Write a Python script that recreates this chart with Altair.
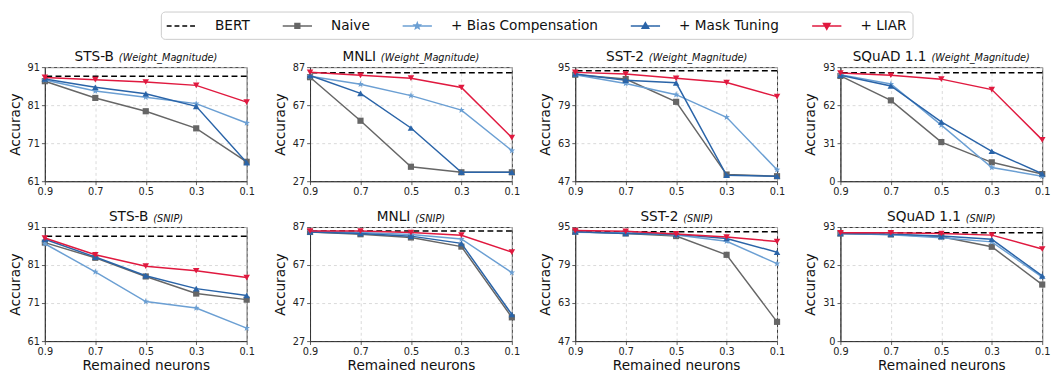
import math
import altair as alt
import pandas as pd

# ---------------- data ----------------
X = [0.9, 0.7, 0.5, 0.3, 0.1]
SERIES = ["Naive", "+ Bias Compensation", "+ Mask Tuning", "+ LIAR"]
LEGEND_ITEMS = ["BERT"] + SERIES

STSB_TICKS = [61, 71, 81, 91]
MNLI_TICKS = [27, 47, 67, 87]
SST2_TICKS = [47, 63, 79, 95]
SQUAD_TICKS = [0, 31, 62, 93]

# Weight_Magnitude pruning
STSB_WM_BERT = 88.6
STSB_WM = {
    "Naive": [87.3, 82.9, 79.4, 74.9, 66.1],
    "+ Bias Compensation": [87.6, 84.7, 83.1, 81.4, 76.3],
    "+ Mask Tuning": [87.9, 85.7, 84.0, 80.7, 65.9],
    "+ LIAR": [88.3, 87.7, 87.1, 86.2, 81.8],
}
MNLI_WM_BERT = 84.1
MNLI_WM = {
    "Naive": [81.7, 58.8, 34.6, 31.7, 31.7],
    "+ Bias Compensation": [82.2, 78.0, 72.0, 64.4, 43.1],
    "+ Mask Tuning": [82.6, 73.2, 55.0, 31.7, 31.7],
    "+ LIAR": [84.3, 82.7, 81.2, 76.3, 49.9],
}
SST2_WM_BERT = 93.5
SST2_WM = {
    "Naive": [91.8, 90.0, 80.4, 49.8, 49.1],
    "+ Bias Compensation": [91.8, 88.1, 83.4, 73.9, 51.8],
    "+ Mask Tuning": [92.1, 89.5, 88.4, 49.5, 49.1],
    "+ LIAR": [92.8, 92.1, 90.3, 88.5, 82.6],
}
SQUAD_WM_BERT = 88.5
SQUAD_WM = {
    "Naive": [85.8, 65.9, 31.9, 15.4, 5.8],
    "+ Bias Compensation": [86.9, 79.2, 45.7, 11.2, 4.0],
    "+ Mask Tuning": [86.4, 77.6, 48.4, 24.4, 6.1],
    "+ LIAR": [88.2, 86.4, 83.2, 74.7, 33.7],
}

# SNIP pruning
STSB_SNIP_BERT = 88.6
STSB_SNIP = {
    "Naive": [86.9, 82.9, 78.0, 73.5, 71.9],
    "+ Bias Compensation": [86.6, 79.2, 71.4, 69.7, 64.4],
    "+ Mask Tuning": [87.8, 83.1, 78.2, 74.8, 73.0],
    "+ LIAR": [88.1, 83.7, 80.7, 79.5, 77.7],
}
MNLI_SNIP_BERT = 84.9
MNLI_SNIP = {
    "Naive": [84.4, 83.2, 81.5, 76.7, 39.5],
    "+ Bias Compensation": [84.8, 84.1, 83.1, 80.7, 63.0],
    "+ Mask Tuning": [84.4, 83.6, 82.2, 78.4, 41.0],
    "+ LIAR": [84.9, 84.9, 84.1, 82.7, 73.8],
}
SST2_SNIP_BERT = 93.0
SST2_SNIP = {
    "Naive": [93.0, 92.3, 91.2, 83.3, 55.1],
    "+ Bias Compensation": [92.8, 92.6, 91.6, 89.0, 79.6],
    "+ Mask Tuning": [93.0, 92.3, 91.9, 90.2, 84.4],
    "+ LIAR": [93.5, 93.2, 92.1, 90.8, 88.9],
}
SQUAD_SNIP_BERT = 88.3
SQUAD_SNIP = {
    "Naive": [87.7, 86.9, 85.1, 76.9, 46.1],
    "+ Bias Compensation": [87.7, 86.7, 84.3, 80.9, 52.2],
    "+ Mask Tuning": [87.7, 87.2, 85.6, 83.0, 53.2],
    "+ LIAR": [88.3, 88.3, 87.7, 86.4, 75.1],
}

# ---------------- style ----------------
FONT = "DejaVu Sans"
PW, PH = 207, 117
COLORS = {
    "BERT": "#000000",
    "Naive": "#666666",
    "+ Bias Compensation": "#6b9fd3",
    "+ Mask Tuning": "#2a64a8",
    "+ LIAR": "#e0193f",
}


def star_path(R, r):
    pts = []
    for k in range(10):
        ang = math.radians(-90 + 36 * k)
        rad = R if k % 2 == 0 else r
        pts.append(f"{rad * math.cos(ang):.3f},{rad * math.sin(ang):.3f}")
    return "M" + "L".join(pts) + "Z"


STAR = star_path(1.0, 0.42)
SHAPES = {
    "Naive": "square",
    "+ Bias Compensation": STAR,
    "+ Mask Tuning": "triangle-up",
    "+ LIAR": "triangle-down",
}
SIZES = {"Naive": 40, "+ Bias Compensation": 50, "+ Mask Tuning": 45, "+ LIAR": 45}

# legend symbols: a 30px line (path spans -2..2 at size 225) with a small marker
LINE = "M-2,0H2"
LEGEND_PATHS = [
    LINE,
    LINE + "M-0.33,-0.33H0.33V0.33H-0.33Z",
    LINE + star_path(0.42, 0.18),
    LINE + "M0,-0.45L0.45,0.33L-0.45,0.33Z",
    LINE + "M-0.45,-0.33L0.45,-0.33L0,0.45Z",
]

CW = {"S": .635, "T": .611, "-": .361, "B": .686, "M": .863, "N": .748, "L": .557,
      "I": .295, "2": .636, "Q": .787, "u": .634, "A": .684, "D": .770, " ": .318,
      "1": .636, ".": .318, "(": .390, ")": .390, "W": .989, "e": .615, "i": .278,
      "g": .635, "h": .634, "t": .392, "_": .500, "a": .613, "n": .634, "d": .635,
      "P": .603}


def tw(s, size):
    return sum(CW.get(c, 0.6) for c in s) * size


legend_cfg = alt.Legend(
    title=None, orient="none", legendX=119, legendY=-57, direction="horizontal",
    columns=5, symbolSize=225, symbolStrokeWidth=1.5, symbolOffset=6.5,
    labelFontSize=14, labelFont=FONT, labelColor="#111111", labelOffset=26,
    labelLimit=400, columnPadding=30, padding=6, strokeColor="#cccccc",
    cornerRadius=4, fillColor="#ffffff",
)


def panel(task, pruner, ticks, bert, vals, bottom, with_legend):
    rows = []
    for m in SERIES:
        for x, v in zip(X, vals[m]):
            rows.append({"x": x, "acc": v, "method": m})
    df = pd.DataFrame(rows)

    xenc = alt.X(
        "x:Q",
        scale=alt.Scale(domain=[0.1, 0.9], reverse=True, nice=False, zero=False),
        axis=alt.Axis(values=X, format=".1f",
                      title="Remained neurons" if bottom else None),
    )
    yenc = alt.Y(
        "acc:Q",
        scale=alt.Scale(domain=[ticks[0], ticks[-1]], nice=False, zero=False),
        axis=alt.Axis(values=ticks, title="Accuracy"),
    )

    layers = []
    layers.append(
        alt.Chart(pd.DataFrame({"acc": [bert]}))
        .mark_rule(color="black", strokeDash=[6, 3.5], strokeWidth=1.5)
        .encode(y=yenc)
    )
    for m in SERIES:
        sub = df[df["method"] == m]
        layers.append(
            alt.Chart(sub).mark_line(color=COLORS[m], strokeWidth=1.5)
            .encode(x=xenc, y=yenc)
        )
        layers.append(
            alt.Chart(sub).mark_point(filled=True, shape=SHAPES[m], size=SIZES[m],
                                      color=COLORS[m], opacity=1)
            .encode(x=xenc, y=yenc)
        )

    sub_text = f"({pruner})"
    wm = tw(task, 14)
    ws = tw(sub_text, 10)
    gap = 5
    split = PW / 2 - (wm + gap + ws) / 2 + wm
    tdf = pd.DataFrame({"t": [task], "s": [sub_text]})
    layers.append(
        alt.Chart(tdf).mark_text(align="right", baseline="alphabetic", fontSize=14,
                                 font=FONT, color="#111111")
        .encode(x=alt.value(split), y=alt.value(-6), text="t:N")
    )
    layers.append(
        alt.Chart(tdf).mark_text(align="left", baseline="alphabetic", fontSize=10,
                                 font=FONT, fontStyle="italic", color="#111111")
        .encode(x=alt.value(split + gap), y=alt.value(-5 if bottom else -6), text="s:N")
    )

    if with_legend:
        ldf = pd.DataFrame({"method": LEGEND_ITEMS})
        layers.append(
            alt.Chart(ldf).transform_filter("false").mark_point(filled=True, opacity=1)
            .encode(
                shape=alt.Shape("method:N", scale=alt.Scale(domain=LEGEND_ITEMS, range=LEGEND_PATHS), legend=legend_cfg),
                fill=alt.Fill("method:N", scale=alt.Scale(domain=LEGEND_ITEMS, range=[COLORS[k] for k in LEGEND_ITEMS]), legend=legend_cfg),
                stroke=alt.Stroke("method:N", scale=alt.Scale(domain=LEGEND_ITEMS, range=[COLORS[k] for k in LEGEND_ITEMS]), legend=legend_cfg),
                strokeDash=alt.StrokeDash("method:N", scale=alt.Scale(domain=LEGEND_ITEMS, range=[[5, 3], [1, 0], [1, 0], [1, 0], [1, 0]]), legend=legend_cfg),
            )
        )

    return alt.layer(*layers).properties(width=PW, height=PH)


row1 = alt.hconcat(
    panel("STS-B", "Weight_Magnitude", STSB_TICKS, STSB_WM_BERT, STSB_WM, False, True),
    panel("MNLI", "Weight_Magnitude", MNLI_TICKS, MNLI_WM_BERT, MNLI_WM, False, False),
    panel("SST-2", "Weight_Magnitude", SST2_TICKS, SST2_WM_BERT, SST2_WM, False, False),
    panel("SQuAD 1.1", "Weight_Magnitude", SQUAD_TICKS, SQUAD_WM_BERT, SQUAD_WM, False, False),
    spacing=18,
)
row2 = alt.hconcat(
    panel("STS-B", "SNIP", STSB_TICKS, STSB_SNIP_BERT, STSB_SNIP, True, False),
    panel("MNLI", "SNIP", MNLI_TICKS, MNLI_SNIP_BERT, MNLI_SNIP, True, False),
    panel("SST-2", "SNIP", SST2_TICKS, SST2_SNIP_BERT, SST2_SNIP, True, False),
    panel("SQuAD 1.1", "SNIP", SQUAD_TICKS, SQUAD_SNIP_BERT, SQUAD_SNIP, True, False),
    spacing=18,
)

chart = (
    alt.vconcat(row1, row2, spacing=13)
    .properties(padding={"left": 8, "top": 6, "right": 0, "bottom": 0})
    .configure(font=FONT)
    .configure_view(stroke="#333333", strokeWidth=1)
    .configure_axis(
        labelFont=FONT, titleFont=FONT, labelFontSize=10, labelColor="#222222",
        titleFontSize=14, titleFontWeight="normal", titleColor="#111111",
        tickSize=3.5, tickColor="#333333", tickWidth=0.8, domainColor="#333333",
        grid=True, gridDash=[3, 3], gridColor="#cfcfcf", gridWidth=0.8,
        labelPadding=2, labelFlush=False, labelOverlap=False,
    )
    .configure_axisX(titlePadding=3)
    .configure_axisY(titlePadding=5)
)

chart.save("out.html", embed_options={"renderer": "svg", "actions": False})
